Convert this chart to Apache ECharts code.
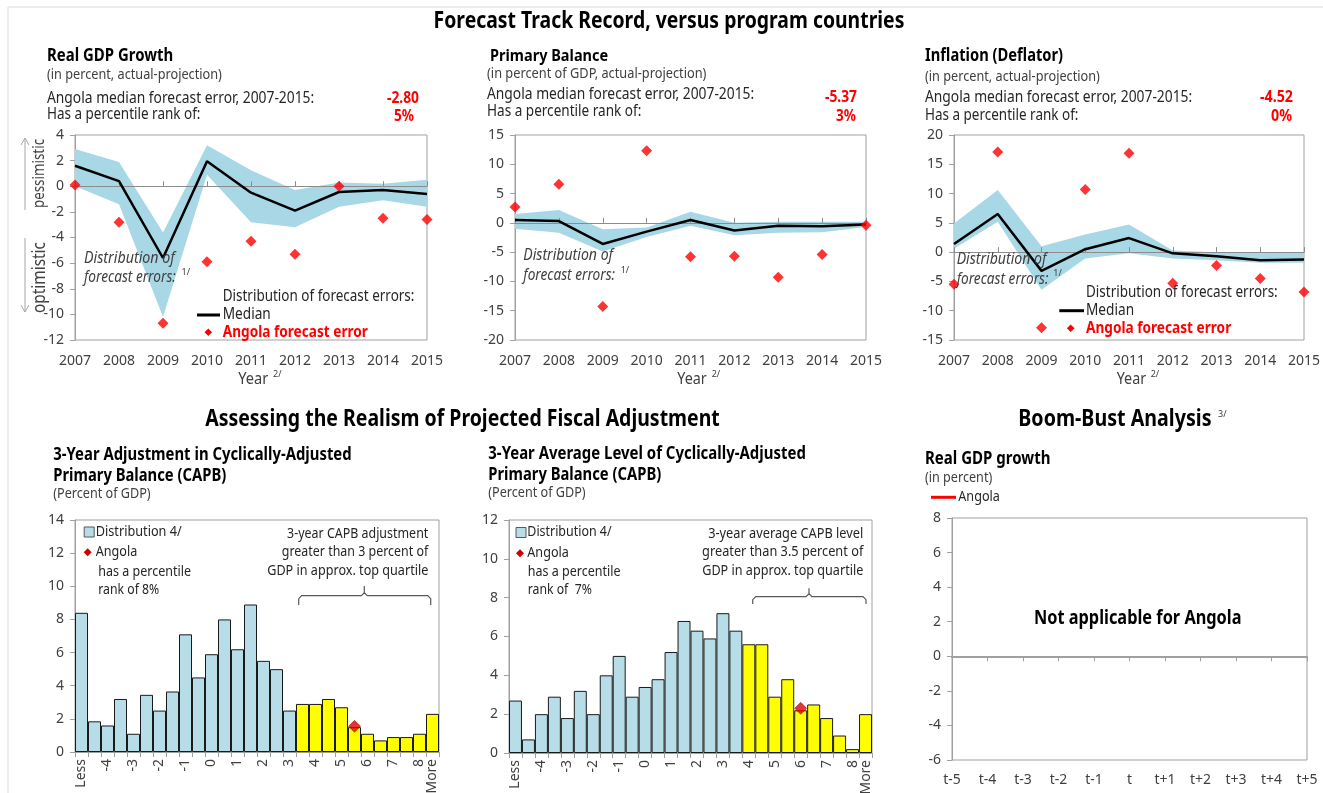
<!DOCTYPE html>
<html><head><meta charset="utf-8">
<script src="https://cdn.jsdelivr.net/npm/echarts@6/dist/echarts.min.js"></script>
<style>html,body{margin:0;padding:0;background:#fff;}#c{width:1323px;height:793px;}</style>
</head><body><div id="c"></div>
<script>
// ---------------- DATA ----------------
const years = ['2007','2008','2009','2010','2011','2012','2013','2014','2015'];

const gdpMedian = [1.6, 0.4, -5.6, 1.95, -0.5, -1.9, -0.45, -0.3, -0.6];
const gdpLow    = [0.0, -1.4, -10.2, 0.9, -2.8, -3.2, -1.6, -1.1, -1.6];
const gdpHigh   = [2.9, 1.9, -3.6, 3.2, 1.25, -0.3, 0.3, 0.2, 0.5];
const gdpAngola = [0.1, -2.8, -10.7, -5.9, -4.3, -5.3, 0.0, -2.5, -2.6];

const pbMedian = [0.5, 0.3, -3.6, -1.5, 0.5, -1.3, -0.5, -0.6, -0.3];
const pbLow    = [-1.0, -1.7, -4.9, -2.4, -0.5, -2.1, -1.7, -1.6, -0.7];
const pbHigh   = [1.5, 2.2, -1.1, -0.8, 1.9, 0.0, 0.2, 0.2, 0.2];
const pbAngola = [2.7, 6.6, -14.3, 12.3, -5.8, -5.7, -9.3, -5.4, -0.4];

const infMedian = [1.4, 6.5, -3.2, 0.5, 2.4, -0.2, -0.7, -1.4, -1.25];
const infLow    = [0.6, 5.2, -6.4, -1.1, -0.2, -1.1, -1.4, -1.8, -1.8];
const infHigh   = [4.9, 10.6, 1.0, 3.0, 4.7, 0.3, 0.0, -0.1, 0.0];
const infAngola = [-5.5, 17.1, -12.9, 10.7, 16.9, -5.3, -2.3, -4.5, -6.8];

const histBins = ['Less','-4.5','-4','-3.5','-3','-2.5','-2','-1.5','-1','-0.5','0','0.5',
  '1','1.5','2','2.5','3','3.5','4','4.5','5','5.5','6','6.5','7','7.5','8','More'];

const capbAdjDist = [8.4, 1.85, 1.6, 3.2, 1.1, 3.45, 2.5, 3.65, 7.1, 4.5, 5.9, 8.0, 6.2, 8.9,
  5.5, 5.0, 2.5, 2.9, 2.9, 3.2, 2.7, 1.5, 1.1, 0.7, 0.9, 0.9, 1.1, 2.3];
const capbAdjTopFrom = '3.5';
const capbAdjAngola = [['5.5', 1.55]];

const capbLevelDist = [2.7, 0.7, 2.0, 2.9, 1.8, 3.2, 2.0, 4.0, 5.0, 2.9, 3.4, 3.8, 5.2, 6.8,
  6.3, 5.9, 7.2, 6.3, 5.6, 5.6, 2.9, 3.8, 2.2, 2.5, 1.8, 0.9, 0.2, 2.0];
const capbLevelTopFrom = '4';
const capbLevelAngola = [['6', 2.3]];

const boomBustPeriods = ['t-5','t-4','t-3','t-2','t-1','t','t+1','t+2','t+3','t+4','t+5'];
const boomBustAngola = [];   // not applicable

// ---------------- STYLE / HELPERS ----------------
const F = "'Noto Sans', 'Open Sans', sans-serif";
const BAND = '#a8d8e6', BARBLUE = '#b7dee8', YEL = '#ffff00', AX = '#a0a0a0', LBL = '#404040', TXT = '#262626';
const SQ = 1.15; // text drawn larger, then compressed horizontally
const mctx = document.createElement('canvas').getContext('2d');
function fit(text, weight, style, target) {
  mctx.font = (style || 'normal') + ' ' + (weight || 'normal') + " 100px 'Noto Sans'";
  const w = mctx.measureText(text).width;
  return 100 * target / w;
}
function T(text, x, y, o) {
  o = o || {};
  const k = o.size ? 1 : SQ;
  const size = o.size || Math.round(10 * fit(text, o.weight, o.style, o.w) * SQ) / 10;
  return {type: 'text', x: x, y: y, z: 50, rotation: o.rot || 0, scaleX: 1 / k, scaleY: 1,
    style: {text: text, fill: o.color || TXT, fontFamily: F, fontSize: size,
      fontWeight: o.weight || 'normal', fontStyle: o.style || 'normal',
      textAlign: o.align || 'left', align: o.align || 'left',
      textVerticalAlign: 'middle', verticalAlign: 'middle'}};
}
function L(x1, y1, x2, y2, color, w) {
  return {type: 'line', z: 50, shape: {x1, y1, x2, y2}, style: {stroke: color, lineWidth: w || 1}};
}
function D(x, y, r, color) {
  return {type: 'polygon', z: 50, shape: {points: [[x, y - r], [x + r, y], [x, y + r], [x - r, y]]}, style: {fill: color}};
}
function brace(x0, x1, xc, yTop, yLine, yEnd) {
  return {type: 'polyline', z: 50, shape: {points: [[x0, yEnd], [x0, yLine + 3], [x0 + 3, yLine], [xc - 3, yLine], [xc, yLine - 3], [xc, yTop],
    [xc, yLine - 3], [xc + 3, yLine], [x1 - 3, yLine], [x1, yLine + 3], [x1, yEnd]]}, style: {stroke: '#595959', lineWidth: 1.2, fill: null}};
}

// ---------------- LAYOUT ----------------
const grids = [
  {left: 75, top: 135, width: 352, height: 205},
  {left: 515, top: 135, width: 351, height: 205},
  {left: 954, top: 135, width: 350, height: 205},
  {left: 75, top: 520, width: 364, height: 232},
  {left: 509, top: 520, width: 363, height: 233},
  {left: 952, top: 518, width: 355, height: 242}
];

function yAx(gi, min, max, interval) {
  return {type: 'value', gridIndex: gi, min, max, interval,
    axisLine: {show: true, onZero: false, lineStyle: {color: AX}},
    axisTick: {show: true, length: 5, lineStyle: {color: AX}},
    splitLine: {show: false},
    axisLabel: {color: LBL, fontSize: 14, margin: 11, fontFamily: F}};
}
function xLab(gi, data, margin) {
  return {type: 'category', gridIndex: gi, data, boundaryGap: false, position: 'bottom',
    axisLine: {show: false, onZero: false}, axisTick: {show: false}, splitLine: {show: false},
    axisLabel: {color: LBL, fontSize: 14, margin: margin, fontFamily: F, interval: 0,
      showMinLabel: true, showMaxLabel: true, hideOverlap: false}};
}
function xZero(gi, data, pos, color, width) {
  return {type: 'category', gridIndex: gi, data, boundaryGap: false, position: pos, z: 2,
    axisLine: {show: true, onZero: true, lineStyle: {color: color, width: width}},
    axisTick: {show: true, length: 5, interval: 0, lineStyle: {color: color}},
    axisLabel: {show: false}, splitLine: {show: false}};
}
const lastBin = histBins.length - 1;
function xHist(gi) {
  return {type: 'category', gridIndex: gi, data: histBins, boundaryGap: true, position: 'bottom',
    axisLine: {show: true, onZero: false, lineStyle: {color: AX}},
    axisTick: {show: true, interval: 0, length: 5, lineStyle: {color: AX}},
    splitLine: {show: false},
    axisLabel: {rotate: 90, color: LBL, fontSize: 14, margin: 7, fontFamily: F, hideOverlap: false,
      interval: function (i) { return i % 2 === 0 && i !== lastBin; }}};
}
function xHistLast(gi) {
  return {type: 'category', gridIndex: gi, data: histBins, boundaryGap: true, position: 'bottom',
    axisLine: {show: false, onZero: false}, axisTick: {show: false}, splitLine: {show: false},
    axisLabel: {rotate: 90, color: LBL, fontSize: 14, margin: 7, fontFamily: F, hideOverlap: false,
      interval: function (i) { return i === lastBin; }}};
}

function trackSeries(xi, yi, med, low, high, ang) {
  return [
    {type: 'line', xAxisIndex: xi, yAxisIndex: yi, data: low, stack: 'band' + yi, stackStrategy: 'all',
      symbol: 'none', lineStyle: {opacity: 0}, silent: true, z: 1},
    {type: 'line', xAxisIndex: xi, yAxisIndex: yi, data: high.map((h, i) => +(h - low[i]).toFixed(3)),
      stack: 'band' + yi, stackStrategy: 'all', symbol: 'none', lineStyle: {opacity: 0},
      areaStyle: {color: BAND, opacity: 1}, silent: true, z: 1},
    {type: 'line', xAxisIndex: xi, yAxisIndex: yi, data: med, symbol: 'none',
      lineStyle: {color: '#000', width: 2.5}, z: 3},
    {type: 'scatter', xAxisIndex: xi, yAxisIndex: yi, data: ang, symbol: 'diamond', symbolSize: 11,
      itemStyle: {color: '#ff0000'}, clip: false, z: 4}
  ];
}
function histSeries(xi, yi, dist, topFrom, ang) {
  const thr = histBins.indexOf(topFrom);
  return [
    {type: 'bar', xAxisIndex: xi, yAxisIndex: yi, barCategoryGap: '0%',
      data: dist.map((v, i) => ({value: v, itemStyle: {color: i >= thr ? YEL : BARBLUE}})),
      itemStyle: {borderColor: '#1a1a1a', borderWidth: 1}, z: 2},
    {type: 'scatter', xAxisIndex: xi, yAxisIndex: yi, data: ang, symbol: 'diamond', symbolSize: 12,
      itemStyle: {color: '#e00000', borderColor: '#900000', borderWidth: 0.6}, z: 4}
  ];
}

const gfx = [
  L(8, 7, 1323, 7, '#d9d9d9', 1), L(8, 7, 8, 793, '#d9d9d9', 1),
  T('Forecast Track Record, versus program countries', 669, 22, {w: 471, weight: 'bold', color: '#000', align: 'center'}),

  // Panel 1
  T('Real GDP Growth', 47, 56, {w: 126, weight: 'bold', color: '#000'}),
  T('(in percent, actual-projection)', 47, 75, {w: 175, color: LBL}),
  T('Angola median forecast error, 2007-2015:', 47, 98, {w: 267}),
  T('-2.80', 419, 98, {w: 32, weight: 'bold', color: '#ff0000', align: 'right'}),
  T('Has a percentile rank of:', 47, 115, {w: 153}),
  T('5%', 414, 117, {w: 20, weight: 'bold', color: '#ff0000', align: 'right'}),
  L(25, 138, 25, 210, '#a6a6a6', 1), {type: 'polyline', z: 50, shape: {points: [[21, 145], [25, 138], [29, 145]]}, style: {stroke: '#a6a6a6', fill: null}},
  L(25, 238, 25, 312, '#a6a6a6', 1), {type: 'polyline', z: 50, shape: {points: [[21, 305], [25, 312], [29, 305]]}, style: {stroke: '#a6a6a6', fill: null}},
  T('pessimistic', 39.5, 173.5, {w: 69, color: LBL, align: 'center', rot: Math.PI / 2}),
  T('optimistic', 39.5, 277.5, {w: 71, color: LBL, align: 'center', rot: Math.PI / 2}),
  T('Distribution of', 84, 258, {w: 91, style: 'italic', color: LBL}),
  T('forecast errors:', 84, 278, {w: 92, style: 'italic', color: LBL}),
  T('1/', 181.5, 272, {size: 9, color: LBL}),
  T('Distribution of forecast errors:', 222.7, 296.7, {w: 192}),
  L(197, 315, 220, 315, '#000', 3),
  T('Median', 222.7, 315, {w: 48}),
  D(208.3, 332.3, 3.8, '#ff0000'),
  T('Angola forecast error', 222.7, 332.3, {w: 145, weight: 'bold', color: '#ff0000'}),
  T('Year', 238.3, 379.3, {w: 30, color: LBL}),
  T('2/', 273, 374, {size: 9, color: LBL}),

  // Panel 2
  T('Primary Balance', 490, 56, {w: 118, weight: 'bold', color: '#000'}),
  T('(in percent of GDP, actual-projection)', 487, 74, {w: 220, color: LBL}),
  T('Angola median forecast error, 2007-2015:', 487, 94, {w: 268}),
  T('-5.37', 857, 97, {w: 32, weight: 'bold', color: '#ff0000', align: 'right'}),
  T('Has a percentile rank of:', 487, 112, {w: 154}),
  T('3%', 856, 117, {w: 20, weight: 'bold', color: '#ff0000', align: 'right'}),
  T('Distribution of', 523.3, 255.7, {w: 90, style: 'italic', color: LBL}),
  T('forecast errors:', 523.3, 276, {w: 92, style: 'italic', color: LBL}),
  T('1/', 620.7, 270, {size: 9, color: LBL}),
  T('Year', 677.3, 379.3, {w: 29.5, color: LBL}),
  T('2/', 711.7, 374, {size: 9, color: LBL}),

  // Panel 3
  T('Inflation (Deflator)', 925, 56, {w: 138, weight: 'bold', color: '#000'}),
  T('(in percent, actual-projection)', 925, 77, {w: 175, color: LBL}),
  T('Angola median forecast error, 2007-2015:', 925, 97, {w: 268}),
  T('-4.52', 1293, 97, {w: 33, weight: 'bold', color: '#ff0000', align: 'right'}),
  T('Has a percentile rank of:', 925, 116, {w: 153}),
  T('0%', 1292, 116, {w: 21, weight: 'bold', color: '#ff0000', align: 'right'}),
  T('Distribution of', 956.7, 259.3, {w: 90, style: 'italic', color: LBL}),
  T('forecast errors:', 956.7, 279.3, {w: 92, style: 'italic', color: LBL}),
  T('1/', 1053.3, 273, {size: 9, color: LBL}),
  T('Distribution of forecast errors:', 1086, 292.7, {w: 192}),
  L(1059.3, 310.7, 1084, 310.7, '#000', 3),
  T('Median', 1086, 310.7, {w: 48}),
  D(1070.7, 328.3, 3.8, '#ff0000'),
  T('Angola forecast error', 1086, 328.3, {w: 145, weight: 'bold', color: '#ff0000'}),
  T('Year', 1116.7, 379.3, {w: 29.5, color: LBL}),
  T('2/', 1150.7, 374, {size: 9, color: LBL}),

  // Section titles
  T('Assessing the Realism of Projected Fiscal Adjustment', 462.5, 420, {w: 515, weight: 'bold', color: '#000', align: 'center'}),
  T('Boom-Bust Analysis', 1018.3, 420, {w: 193, weight: 'bold', color: '#000'}),
  T('3/', 1218, 414, {size: 9, color: LBL}),

  // Panel 4
  T('3-Year Adjustment in Cyclically-Adjusted', 53.3, 455, {w: 299, weight: 'bold', color: '#000'}),
  T('Primary Balance (CAPB)', 53.3, 475.7, {w: 173, weight: 'bold', color: '#000'}),
  T('(Percent of GDP)', 53.3, 494, {w: 97, color: LBL}),
  {type: 'rect', z: 50, shape: {x: 84.2, y: 527, width: 10, height: 10}, style: {fill: BARBLUE, stroke: '#595959', lineWidth: 1}},
  T('Distribution 4/', 95.7, 531.7, {w: 86}),
  D(87.7, 552.3, 4, '#d00000'),
  T('Angola', 95.7, 552.3, {w: 41.7}),
  T('has a percentile', 98.3, 572.3, {w: 92.7}),
  T('rank of 8%', 98.3, 590, {w: 61}),
  T('3-year CAPB adjustment', 428.3, 534.3, {w: 141.7, align: 'right'}),
  T('greater than 3 percent of', 428.3, 552.3, {w: 146.7, align: 'right'}),
  T('GDP in approx. top quartile', 428.3, 570.7, {w: 161, align: 'right'}),
  brace(298.7, 430.7, 364.3, 586, 595.7, 605),

  // Panel 5
  T('3-Year Average Level of Cyclically-Adjusted', 488.3, 454, {w: 318, weight: 'bold', color: '#000'}),
  T('Primary Balance (CAPB)', 488.3, 475, {w: 173, weight: 'bold', color: '#000'}),
  T('(Percent of GDP)', 488.3, 493, {w: 97, color: LBL}),
  {type: 'rect', z: 50, shape: {x: 516, y: 527.5, width: 10, height: 10}, style: {fill: BARBLUE, stroke: '#595959', lineWidth: 1}},
  T('Distribution 4/', 527.3, 532.3, {w: 84.3}),
  D(520, 553.3, 4, '#d00000'),
  T('Angola', 527.3, 553.3, {w: 41.7}),
  T('has a percentile', 527.7, 572.3, {w: 92.7}),
  T('rank of  7%', 527.7, 590, {w: 64}),
  T('3-year average CAPB level', 863.3, 534.3, {w: 155, align: 'right'}),
  T('greater than 3.5 percent of', 863.3, 552.3, {w: 161, align: 'right'}),
  T('GDP in approx. top quartile', 863.3, 570.7, {w: 161, align: 'right'}),
  brace(752.7, 866, 809, 588.3, 596.7, 604),

  // Panel 6
  T('Real GDP growth', 925, 459.3, {w: 125.7, weight: 'bold', color: '#000'}),
  T('(in percent)', 925, 478.3, {w: 67.3, color: LBL}),
  L(931, 497.3, 956, 497.3, '#ff0000', 3),
  T('Angola', 958.3, 497.3, {w: 41.7}),
  T('Not applicable for Angola', 1137.7, 619, {w: 207.7, weight: 'bold', color: '#000', align: 'center'})
];

const option = {
  animation: false,
  textStyle: {fontFamily: F},
  grid: grids.map(g => Object.assign({}, g, {show: true, borderColor: AX, borderWidth: 1,
    backgroundColor: 'transparent', containLabel: false, outerBoundsMode: 'none'})),
  xAxis: [
    xLab(0, years, 14), xZero(0, years, 'top', '#8c8c8c', 1),
    xLab(1, years, 14), xZero(1, years, 'top', '#8c8c8c', 1),
    xLab(2, years, 14), xZero(2, years, 'top', '#8c8c8c', 1),
    xHist(3), xHist(4),
    xLab(5, boomBustPeriods, 13), xZero(5, boomBustPeriods, 'bottom', '#a0a0a0', 2),
    xHistLast(3), xHistLast(4)
  ],
  yAxis: [
    yAx(0, -12, 4, 2), yAx(1, -20, 15, 5), yAx(2, -15, 20, 5),
    yAx(3, 0, 14, 2), yAx(4, 0, 12, 2), yAx(5, -6, 8, 2)
  ],
  series: [].concat(
    trackSeries(0, 0, gdpMedian, gdpLow, gdpHigh, gdpAngola),
    trackSeries(2, 1, pbMedian, pbLow, pbHigh, pbAngola),
    trackSeries(4, 2, infMedian, infLow, infHigh, infAngola),
    histSeries(6, 3, capbAdjDist, capbAdjTopFrom, capbAdjAngola),
    histSeries(7, 4, capbLevelDist, capbLevelTopFrom, capbLevelAngola),
    [{type: 'line', name: 'Angola', xAxisIndex: 8, yAxisIndex: 5, data: boomBustAngola,
      lineStyle: {color: '#ff0000', width: 3}, symbol: 'none'}]
  ),
  graphic: {elements: gfx}
};

const chart = echarts.init(document.getElementById('c'), null, {renderer: 'canvas'});
chart.setOption(option);
</script>
</body></html>
